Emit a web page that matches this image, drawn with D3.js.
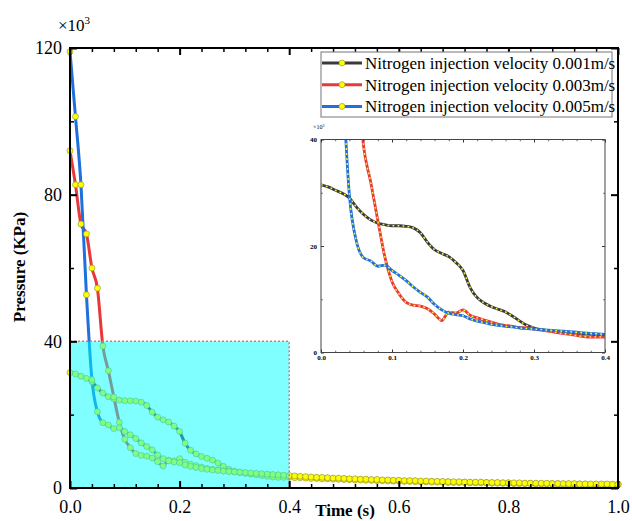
<!DOCTYPE html>
<head>
  <meta charset="utf-8">
  <style>
    body { margin: 0; background: #fff; }
    text { font-family: "Liberation Serif", "Times New Roman", serif; }
  </style>
  <title>Pressure vs Time</title>
</head>

<body>
  <script src="https://cdn.jsdelivr.net/npm/d3@7/dist/d3.min.js"></script>

  <script>
    // time samples (s)
    var times = [
      0.00, 0.01, 0.02, 0.03, 0.04, 0.05, 0.06, 0.07, 0.08, 0.09,
      0.10, 0.11, 0.12, 0.13, 0.14, 0.15, 0.16, 0.17, 0.18, 0.19,
      0.20, 0.21, 0.22, 0.23, 0.24, 0.25, 0.26, 0.27, 0.28, 0.29,
      0.30, 0.31, 0.32, 0.33, 0.34, 0.35, 0.36, 0.37, 0.38, 0.39,
      0.40, 0.41, 0.42, 0.43, 0.44, 0.45, 0.46, 0.47, 0.48, 0.49,
      0.50, 0.51, 0.52, 0.53, 0.54, 0.55, 0.56, 0.57, 0.58, 0.59,
      0.60, 0.61, 0.62, 0.63, 0.64, 0.65, 0.66, 0.67, 0.68, 0.69,
      0.70, 0.71, 0.72, 0.73, 0.74, 0.75, 0.76, 0.77, 0.78, 0.79,
      0.80, 0.81, 0.82, 0.83, 0.84, 0.85, 0.86, 0.87, 0.88, 0.89,
      0.90, 0.91, 0.92, 0.93, 0.94, 0.95, 0.96, 0.97, 0.98, 0.99,
      1.00
    ];

    // pressure (x10^3 KPa), velocity 0.001 m/s
    var pressure001 = [
      31.5, 31.1, 30.5, 29.9, 29.0, 27.3, 25.9, 24.9, 24.3, 24.0,
      23.8, 23.8, 23.7, 23.4, 22.5, 20.7, 19.3, 18.6, 18.0, 16.9,
      15.4, 12.2, 10.3, 9.3, 8.6, 8.1, 7.6, 6.8, 5.9, 5.1,
      4.6, 4.3, 4.1, 3.9, 3.8, 3.7, 3.6, 3.5, 3.4, 3.3,
      3.2, 3.1, 3.0, 2.9, 2.9, 2.8, 2.7, 2.7, 2.6, 2.5,
      2.5, 2.4, 2.4, 2.3, 2.3, 2.2, 2.2, 2.1, 2.1, 2.0,
      2.0, 1.9, 1.9, 1.9, 1.8, 1.8, 1.8, 1.7, 1.7, 1.7,
      1.6, 1.6, 1.6, 1.5, 1.5, 1.5, 1.5, 1.4, 1.4, 1.4,
      1.4, 1.3, 1.3, 1.3, 1.3, 1.2, 1.2, 1.2, 1.2, 1.2,
      1.1, 1.1, 1.1, 1.1, 1.1, 1.0, 1.0, 1.0, 1.0, 1.0,
      1.0
    ];

    // velocity 0.003 m/s
    var pressure003 = [
      92.0, 82.7, 72.0, 69.3, 60.0, 54.5, 38.7, 32.0, 24.8, 17.9,
      13.3, 11.0, 9.4, 8.9, 8.7, 8.2, 7.2, 6.0, 7.6, 7.4,
      8.0, 7.0, 6.5, 6.1, 5.7, 5.3, 5.1, 4.9, 4.7, 4.6,
      4.4, 4.2, 4.0, 3.8, 3.6, 3.4, 3.2, 3.0, 2.9, 2.9,
      2.9, 2.8, 2.8, 2.7, 2.6, 2.6, 2.5, 2.5, 2.4, 2.4,
      2.3, 2.3, 2.2, 2.2, 2.1, 2.1, 2.0, 2.0, 1.9, 1.9,
      1.9, 1.8, 1.8, 1.7, 1.7, 1.7, 1.6, 1.6, 1.6, 1.5,
      1.5, 1.5, 1.5, 1.4, 1.4, 1.4, 1.4, 1.3, 1.3, 1.3,
      1.3, 1.2, 1.2, 1.2, 1.2, 1.1, 1.1, 1.1, 1.1, 1.1,
      1.0, 1.0, 1.0, 1.0, 1.0, 0.9, 0.9, 0.9, 0.9, 0.9,
      0.9
    ];

    // velocity 0.005 m/s
    var pressure005 = [
      119.0, 101.3, 82.7, 52.7, 29.5, 20.8, 17.8, 17.2, 16.2, 16.4,
      15.4, 14.5, 13.5, 12.3, 11.3, 10.4, 9.0, 8.0, 7.4, 7.1,
      6.9, 6.3, 5.9, 5.6, 5.3, 5.1, 4.9, 4.8, 4.6, 4.5,
      4.4, 4.3, 4.2, 4.1, 4.0, 3.9, 3.8, 3.7, 3.6, 3.5,
      3.4, 3.3, 3.2, 3.1, 3.0, 2.9, 2.9, 2.8, 2.7, 2.7,
      2.6, 2.5, 2.5, 2.4, 2.4, 2.3, 2.3, 2.2, 2.2, 2.1,
      2.1, 2.0, 2.0, 2.0, 1.9, 1.9, 1.8, 1.8, 1.8, 1.7,
      1.7, 1.7, 1.6, 1.6, 1.6, 1.6, 1.5, 1.5, 1.5, 1.4,
      1.4, 1.4, 1.4, 1.3, 1.3, 1.3, 1.3, 1.3, 1.2, 1.2,
      1.2, 1.2, 1.2, 1.1, 1.1, 1.1, 1.1, 1.1, 1.1, 1.0,
      1.0
    ];

    var seriesNames = [
      "Nitrogen injection velocity 0.001m/s",
      "Nitrogen injection velocity 0.003m/s",
      "Nitrogen injection velocity 0.005m/s"
    ];
    var seriesColors = ["#3b3b3b", "#e8393a", "#1f6fdc"];

    // tick values
    var xMajor = [0, 0.2, 0.4, 0.6, 0.8, 1.0];
    var xMinor = [0.04, 0.08, 0.12, 0.16, 0.24, 0.28, 0.32, 0.36, 0.44, 0.48, 0.52, 0.56,
                  0.64, 0.68, 0.72, 0.76, 0.84, 0.88, 0.92, 0.96];
    var yMajor = [0, 40, 80, 120];
    var yMinor = [20, 60, 100];
    var insetXMajor = [0, 0.1, 0.2, 0.3, 0.4];
    var insetXMinor = [0.02, 0.04, 0.06, 0.08, 0.12, 0.14, 0.16, 0.18, 0.22, 0.24, 0.26, 0.28,
                       0.32, 0.34, 0.36, 0.38];
    var insetYMajor = [0, 20, 40];
    var insetYMinor = [10, 30];
    var zoomTime = 0.4;
    var zoomPressure = 40;

    var series = [pressure001, pressure003, pressure005].map(function (vals, i) {
      return {
        name: seriesNames[i],
        color: seriesColors[i],
        points: vals.map(function (v, j) { return { t: times[j], p: v }; })
      };
    });

    var width = 632;
    var height = 521;

    var svg = d3.select("body").append("svg")
      .attr("width", width)
      .attr("height", height);

    // main scales
    var x = d3.scaleLinear().domain([0, 1]).range([70, 618]);
    var y = d3.scaleLinear().domain([0, 120]).range([488, 48]);

    var line = d3.line()
      .x(function (d) { return x(d.t); })
      .y(function (d) { return y(d.p); })
      .curve(d3.curveMonotoneX);

    // lines
    svg.selectAll("path.main-line").data(series).enter().append("path")
      .attr("class", "main-line")
      .attr("d", function (d) { return line(d.points); })
      .attr("fill", "none")
      .attr("stroke", function (d) { return d.color; })
      .attr("stroke-width", 3);

    // yellow markers
    series.forEach(function (s) {
      svg.append("g").selectAll("circle").data(s.points).enter().append("circle")
        .attr("cx", function (d) { return x(d.t); })
        .attr("cy", function (d) { return y(d.p); })
        .attr("r", 3)
        .attr("fill", "#ffff00")
        .attr("stroke", "#8c8c3c")
        .attr("stroke-width", 0.6);
    });

    // translucent cyan zoom region
    svg.append("rect")
      .attr("x", x(0))
      .attr("y", y(zoomPressure))
      .attr("width", x(zoomTime) - x(0))
      .attr("height", y(0) - y(zoomPressure))
      .attr("fill", "#00ffff")
      .attr("fill-opacity", 0.5);

    svg.append("path")
      .attr("d", "M" + x(0) + "," + y(zoomPressure) + "H" + x(zoomTime) + "V" + y(0))
      .attr("fill", "none")
      .attr("stroke", "#e07080")
      .attr("stroke-width", 1.5)
      .attr("stroke-dasharray", "2,2");

    // axes (ticks pointing inward)
    function ticks(g, axis, w) {
      g.call(axis);
      g.attr("font-family", null).attr("font-size", null);
      g.select(".domain").remove();
      g.selectAll(".tick line").attr("stroke", "#000").attr("stroke-width", w);
      return g;
    }

    var fmt1 = d3.format(".1f");
    var mainFont = 18;

    ticks(svg.append("g").attr("transform", "translate(0," + y(0) + ")"),
      d3.axisBottom(x).tickValues(xMajor).tickSize(-7).tickPadding(12).tickFormat(fmt1), 2)
      .selectAll("text").attr("font-size", mainFont).attr("fill", "#000");
    ticks(svg.append("g").attr("transform", "translate(0," + y(0) + ")"),
      d3.axisBottom(x).tickValues(xMinor).tickSize(-4).tickFormat(""), 1.5);
    ticks(svg.append("g").attr("transform", "translate(0," + y(120) + ")"),
      d3.axisTop(x).tickValues(xMajor).tickSize(-7).tickFormat(""), 2);
    ticks(svg.append("g").attr("transform", "translate(0," + y(120) + ")"),
      d3.axisTop(x).tickValues(xMinor).tickSize(-4).tickFormat(""), 1.5);

    ticks(svg.append("g").attr("transform", "translate(" + x(0) + ",0)"),
      d3.axisLeft(y).tickValues(yMajor).tickSize(-7).tickPadding(8), 2)
      .selectAll("text").attr("font-size", mainFont).attr("fill", "#000");
    ticks(svg.append("g").attr("transform", "translate(" + x(0) + ",0)"),
      d3.axisLeft(y).tickValues(yMinor).tickSize(-4).tickFormat(""), 1.5);
    ticks(svg.append("g").attr("transform", "translate(" + x(1) + ",0)"),
      d3.axisRight(y).tickValues(yMajor).tickSize(-7).tickFormat(""), 2);
    ticks(svg.append("g").attr("transform", "translate(" + x(1) + ",0)"),
      d3.axisRight(y).tickValues(yMinor).tickSize(-4).tickFormat(""), 1.5);

    // frame
    svg.append("rect")
      .attr("x", x(0))
      .attr("y", y(120))
      .attr("width", x(1) - x(0))
      .attr("height", y(0) - y(120))
      .attr("fill", "none")
      .attr("stroke", "#000")
      .attr("stroke-width", 2);

    // multiplier
    var mult = svg.append("text")
      .attr("x", 58)
      .attr("y", 31)
      .attr("font-size", 17)
      .text("×10");
    mult.append("tspan").attr("dy", -7).attr("font-size", 11).text("3");

    // axis titles
    svg.append("text")
      .attr("transform", "translate(25,267) rotate(-90)")
      .attr("text-anchor", "middle")
      .attr("font-size", 17)
      .attr("font-weight", "bold")
      .text("Pressure (KPa)");

    svg.append("text")
      .attr("x", 345)
      .attr("y", 516)
      .attr("text-anchor", "middle")
      .attr("font-size", 17)
      .attr("font-weight", "bold")
      .text("Time (s)");

    // ---- inset ----
    var xi = d3.scaleLinear().domain([0, zoomTime]).range([321, 605]);
    var yi = d3.scaleLinear().domain([0, zoomPressure]).range([352.5, 139.5]);

    svg.append("rect")
      .attr("x", xi(0)).attr("y", yi(40))
      .attr("width", xi(0.4) - xi(0)).attr("height", yi(0) - yi(40))
      .attr("fill", "#fff");

    svg.append("clipPath").attr("id", "inset-clip")
      .append("rect")
      .attr("x", xi(0)).attr("y", yi(40))
      .attr("width", xi(0.4) - xi(0)).attr("height", yi(0) - yi(40));

    var lineInset = d3.line()
      .x(function (d) { return xi(d.t); })
      .y(function (d) { return yi(d.p); })
      .curve(d3.curveMonotoneX);

    var insetG = svg.append("g").attr("clip-path", "url(#inset-clip)");
    series.forEach(function (s) {
      var pts = s.points.filter(function (d) { return d.t <= zoomTime + 0.001; });
      insetG.append("path")
        .attr("d", lineInset(pts))
        .attr("fill", "none")
        .attr("stroke", s.color)
        .attr("stroke-width", 2.8);
      insetG.append("path")
        .attr("d", lineInset(pts))
        .attr("fill", "none")
        .attr("stroke", "#f4f43c")
        .attr("stroke-width", 1.5)
        .attr("stroke-dasharray", "1.8,3.2");
    });

    var insetFont = 7;
    ticks(svg.append("g").attr("transform", "translate(0," + yi(0) + ")"),
      d3.axisBottom(xi).tickValues(insetXMajor).tickSize(-3).tickPadding(3).tickFormat(fmt1), 0.8)
      .selectAll("text").attr("font-size", insetFont).attr("font-weight", "bold").attr("fill", "#000");
    ticks(svg.append("g").attr("transform", "translate(0," + yi(0) + ")"),
      d3.axisBottom(xi).tickValues(insetXMinor).tickSize(-1.8).tickFormat(""), 0.6);
    ticks(svg.append("g").attr("transform", "translate(0," + yi(40) + ")"),
      d3.axisTop(xi).tickValues(insetXMajor).tickSize(-3).tickFormat(""), 0.8);
    ticks(svg.append("g").attr("transform", "translate(0," + yi(40) + ")"),
      d3.axisTop(xi).tickValues(insetXMinor).tickSize(-1.8).tickFormat(""), 0.6);
    ticks(svg.append("g").attr("transform", "translate(" + xi(0) + ",0)"),
      d3.axisLeft(yi).tickValues(insetYMajor).tickSize(-3).tickPadding(4), 0.8)
      .selectAll("text").attr("font-size", insetFont).attr("font-weight", "bold").attr("fill", "#000");
    ticks(svg.append("g").attr("transform", "translate(" + xi(0) + ",0)"),
      d3.axisLeft(yi).tickValues(insetYMinor).tickSize(-1.8).tickFormat(""), 0.6);
    ticks(svg.append("g").attr("transform", "translate(" + xi(0.4) + ",0)"),
      d3.axisRight(yi).tickValues(insetYMajor).tickSize(-3).tickFormat(""), 0.8);
    ticks(svg.append("g").attr("transform", "translate(" + xi(0.4) + ",0)"),
      d3.axisRight(yi).tickValues(insetYMinor).tickSize(-1.8).tickFormat(""), 0.6);

    svg.append("rect")
      .attr("x", xi(0)).attr("y", yi(40))
      .attr("width", xi(0.4) - xi(0)).attr("height", yi(0) - yi(40))
      .attr("fill", "none")
      .attr("stroke", "#444")
      .attr("stroke-width", 1);

    var multInset = svg.append("text")
      .attr("x", 313)
      .attr("y", 129)
      .attr("font-size", 6)
      .text("×10");
    multInset.append("tspan").attr("dy", -2.5).attr("font-size", 4).text("3");

    // ---- legend ----
    var legend = svg.append("g");
    legend.append("rect")
      .attr("x", 321).attr("y", 52)
      .attr("width", 291).attr("height", 65)
      .attr("fill", "#fff")
      .attr("stroke", "#777")
      .attr("stroke-width", 1);

    var rows = legend.selectAll("g.row").data(series).enter().append("g")
      .attr("class", "row")
      .attr("transform", function (d, i) { return "translate(0," + (63 + i * 21.7) + ")"; });
    rows.append("line")
      .attr("x1", 322).attr("x2", 362)
      .attr("stroke", function (d) { return d.color; })
      .attr("stroke-width", 3);
    rows.append("circle")
      .attr("cx", 342).attr("r", 3)
      .attr("fill", "#ffff00")
      .attr("stroke", "#8c8c3c")
      .attr("stroke-width", 0.6);
    rows.append("text")
      .attr("x", 365)
      .attr("dy", "0.35em")
      .attr("font-size", 17)
      .text(function (d) { return d.name; });
  </script>
</body>
